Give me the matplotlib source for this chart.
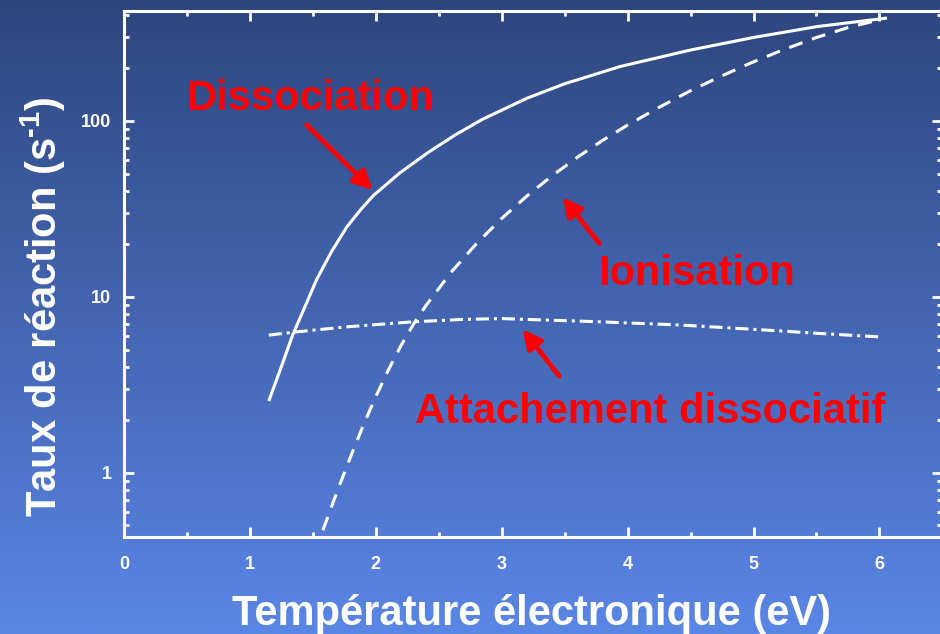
import numpy as np
import matplotlib
matplotlib.use("Agg")
import matplotlib.pyplot as plt
from matplotlib.ticker import FixedLocator, MultipleLocator, LogLocator, NullFormatter

# Data (electron temperature in eV, rate in s^-1)
T_diss = [1.15, 1.25, 1.34, 1.44, 1.53, 1.65, 1.77, 1.88, 1.98, 2.19, 2.41, 2.63, 2.85, 3.20, 3.50, 3.94,
          4.50, 5.00, 5.50, 6.06]
k_diss = [2.55, 4.0, 6.06, 8.85, 12.5, 18.1, 24.9, 31.2, 37.5, 50.4, 65.5, 82.9, 102.0, 134.0, 162.0, 203.0,
          252.0, 297.0, 342.0, 383.0]

T_ion = [1.58, 1.70, 1.80, 1.90, 2.00, 2.10, 2.20, 2.30, 2.40, 2.60, 2.80, 3.00, 3.20, 3.40, 3.60, 3.80, 4.00,
         4.25, 4.50, 4.75, 5.00, 5.25, 5.50, 5.75, 6.00]
k_ion = [0.47, 0.805, 1.23, 1.85, 2.70, 3.83, 5.26, 6.98, 8.93, 13.8, 20.0, 27.8, 37.3, 48.6, 61.8, 77.1, 94.4,
         119.0, 148.0, 180.0, 216.0, 255.0, 297.0, 338.0, 374.0]

T_att = [1.15, 1.37, 1.77, 2.30, 2.70, 3.00, 3.36, 3.78, 4.44, 5.10, 5.53, 6.00]
k_att = [6.04, 6.3, 6.73, 7.19, 7.42, 7.5, 7.35, 7.19, 6.88, 6.45, 6.17, 5.9]

x_ticks = [0, 1, 2, 3, 4, 5, 6]
y_ticks = [1, 10, 100]
y_ticklabels = ["1", "10", "100"]

plt.rcParams["font.family"] = ["Liberation Sans", "DejaVu Sans"]
plt.rcParams["font.weight"] = "bold"
plt.rcParams["mathtext.fontset"] = "custom"
plt.rcParams["mathtext.rm"] = "Liberation Sans:bold"
plt.rcParams["mathtext.default"] = "rm"

fig = plt.figure(figsize=(9.4, 6.34), dpi=100)

# blue gradient background
bg = fig.add_axes([0, 0, 1, 1], zorder=0)
top = np.array([46, 70, 126]) / 255.0
bot = np.array([90, 134, 230]) / 255.0
t = np.linspace(0, 1, 256)[:, None]
grad = (top[None, :] * (1 - t) + bot[None, :] * t)[:, None, :]
bg.imshow(grad, aspect="auto", extent=[0, 1, 0, 1])
bg.axis("off")

ax = fig.add_axes([124 / 940, 1 - 537 / 634, 6.5 * 125.9 / 940, 526 / 634], zorder=1)
ax.patch.set_alpha(0)

lw = 2.2
ax.plot(T_diss, k_diss, color="white", lw=lw, solid_capstyle="butt", solid_joinstyle="round")
ax.plot(T_ion, k_ion, color="white", lw=lw, linestyle=(0, (4.6, 3.3)), dash_capstyle="butt")
ax.plot(T_att, k_att, color="white", lw=lw, linestyle=(0, (4.3, 1.6, 1.0, 1.6)), dash_capstyle="butt")

ax.set_yscale("log")
ax.set_xlim(0, 6.5)
ax.set_ylim(0.43, 420)

ax.xaxis.set_major_locator(FixedLocator(x_ticks))
ax.xaxis.set_minor_locator(MultipleLocator(0.5))
ax.yaxis.set_major_locator(FixedLocator(y_ticks))
ax.yaxis.set_minor_locator(LogLocator(base=10, subs=np.arange(2, 10)))
ax.yaxis.set_minor_formatter(NullFormatter())
ax.set_yticklabels(y_ticklabels)

for s in ax.spines.values():
    s.set_color("white")
    s.set_linewidth(2.2)

ax.tick_params(which="both", direction="in", top=True, right=True, colors="white", width=2)
ax.tick_params(which="major", length=7.2, labelsize=13)
ax.tick_params(which="minor", length=3.6)
ax.tick_params(axis="x", pad=14)
ax.tick_params(axis="y", pad=9)
for lab in ax.get_xticklabels() + ax.get_yticklabels():
    lab.set_fontweight("bold")

# axis titles
fig.text(532 / 940, 1 - 625 / 634, "Température électronique (eV)", color="white",
         fontsize=30, fontweight="bold", ha="center", va="baseline")
fig.text(57 / 940, 1 - 307 / 634, r"Taux de réaction (s$^{\text{-1}}$)", color="white",
         fontsize=30, fontweight="bold", rotation=90, ha="center", va="baseline",
         rotation_mode="anchor")

# red annotations
arrow = dict(arrowstyle="-|>", color="red", lw=3.5, mutation_scale=28, shrinkA=0, shrinkB=0)
ax.annotate("", xy=(1.975, 40.3), xytext=(1.451, 94.6), arrowprops=arrow)
ax.annotate("", xy=(3.485, 36.7), xytext=(3.775, 20.1), arrowprops=arrow)
ax.annotate("", xy=(3.166, 6.53), xytext=(3.457, 3.53), arrowprops=arrow)

ax.text(0.492, 115, "Dissociation", color="red", fontsize=30, fontweight="bold", ha="left", va="baseline")
ax.text(3.765, 11.6, "Ionisation", color="red", fontsize=30, fontweight="bold", ha="left", va="baseline")
ax.text(2.311, 1.90, "Attachement dissociatif", color="red", fontsize=30, fontweight="bold", ha="left", va="baseline")

fig.savefig("out.png", dpi=100)
